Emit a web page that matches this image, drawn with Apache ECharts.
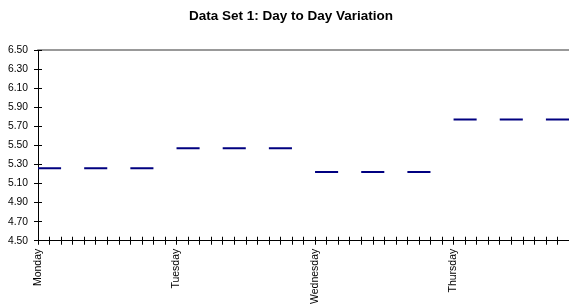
<!DOCTYPE html>
<html>
<head>
<meta charset="utf-8">
<script src="https://cdn.jsdelivr.net/npm/echarts@6/dist/echarts.min.js"></script>
<style>
  html, body { margin: 0; padding: 0; background: #fff; }
  #chart { width: 569px; height: 307px; }
</style>
</head>
<body>
<div id="chart"></div>
<script>
// 12 slots per day, each reading drawn as a short dash over 3 slots
const days = ['Monday', 'Tuesday', 'Wednesday', 'Thursday']
const dayValues = [5.26, 5.47, 5.22, 5.77]
const slotsPerDay = 12
const totalSlots = 47

const categories = []
const values = []
for (let i = 0; i < totalSlots; i++) {
  const d = Math.floor(i / slotsPerDay)
  const k = i % slotsPerDay
  categories.push(k === 0 ? days[d] : '')
  values.push(k % 4 === 3 ? null : dayValues[d])
}

const AXIS_COLOR = '#000'
const FONT = 'Liberation Sans, Arial, sans-serif'

const chart = echarts.init(document.getElementById('chart'))

const baseX = {
  type: 'category',
  data: categories,
  boundaryGap: false,
  position: 'bottom',
  axisLine: { lineStyle: { color: AXIS_COLOR, width: 1 } },
  splitLine: { show: false }
}

const baseY = {
  type: 'value',
  min: 4.5,
  max: 6.5,
  interval: 0.2,
  position: 'left',
  axisLine: { show: true, lineStyle: { color: AXIS_COLOR, width: 1 } },
  splitLine: { show: false }
}

chart.setOption({
  animation: false,
  title: {
    text: 'Data Set 1: Day to Day Variation',
    left: 184,
    top: 4,
    textStyle: { fontFamily: FONT, fontSize: 13.5, fontWeight: 'bold', color: '#000' }
  },
  grid: { left: 38, right: 0, top: 50, bottom: 65, containLabel: false },
  xAxis: [
    {
      ...baseX,
      axisTick: { show: false },
      axisLabel: {
        interval: (idx) => idx % slotsPerDay === 0,
        rotate: 90,
        margin: 8,
        fontFamily: FONT,
        fontSize: 10.5,
        color: '#000'
      }
    },
    {
      // cross ticks: an axis shifted up with ticks reaching below the line
      ...baseX,
      offset: -4,
      axisLine: { show: false },
      axisTick: { show: true, interval: 0, length: 8, lineStyle: { color: AXIS_COLOR } },
      axisLabel: { show: false }
    },
    {
      ...baseX,
      position: 'top',
      axisLine: { lineStyle: { color: '#999', width: 2 } },
      axisTick: { show: false },
      axisLabel: { show: false }
    }
  ],
  yAxis: [
    {
      ...baseY,
      axisTick: { show: false },
      axisLabel: {
        formatter: (v) => v.toFixed(2),
        margin: 10,
        fontFamily: FONT,
        fontSize: 10.3,
        color: '#000'
      }
    },
    {
      ...baseY,
      offset: -4,
      axisLine: { show: false },
      axisTick: { show: true, length: 8, lineStyle: { color: AXIS_COLOR } },
      axisLabel: { show: false }
    }
  ],
  series: [
    {
      type: 'line',
      data: values,
      xAxisIndex: 0,
      yAxisIndex: 0,
      showSymbol: false,
      connectNulls: false,
      lineStyle: { color: '#000080', width: 2 },
      z: 5
    }
  ]
})
</script>
</body>
</html>
